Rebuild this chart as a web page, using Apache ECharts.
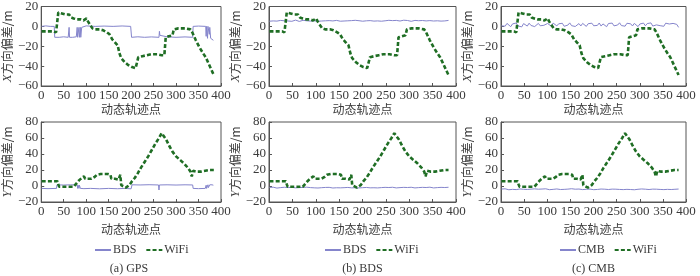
<!DOCTYPE html>
<html><head><meta charset="utf-8">
<script src="https://cdn.jsdelivr.net/npm/echarts@6/dist/echarts.min.js"></script>
<style>html,body{margin:0;padding:0;background:#fff}#c{width:700px;height:276px}</style>
</head><body><div id="c"></div>
<script>
// ---- data ----
const xTicks = [0, 400, 50];
const wifiX = [[1,-5],[28,-5],[33,-6],[36,-8],[38,14],[42,15],[46,13],[50,11],[54,12],[58,13],[62,12],[66,9],[72,8],[80,7],[88,7],[94,6],[98,7],[101,8],[104,5],[108,2],[114,-2],[120,-3],[130,-3],[138,-4],[146,-6],[152,-8],[158,-13],[164,-16],[170,-19],[174,-27],[178,-32],[186,-36],[194,-39],[202,-41],[210,-42],[213,-41],[216,-31],[225,-30],[235,-29],[245,-28],[258,-28],[268,-29],[274,-29],[277,-11],[284,-10],[292,-9],[295,-3],[305,-2],[320,-2],[332,-3],[336,-6],[344,-14],[352,-21],[360,-27],[366,-31],[372,-37],[378,-43],[384,-49]];
const wifiY = [[1,6],[36,6],[38,2],[40,-1],[50,-1],[60,-1],[72,-1],[78,3],[84,7],[90,10],[95,12],[98,9],[104,9],[112,9],[118,11],[124,14],[132,15],[140,15],[148,15],[154,14],[156,9],[164,9],[172,8],[176,14],[178,1],[182,-1],[188,-2],[192,-2],[196,1],[202,6],[208,10],[215,16],[222,23],[230,30],[238,37],[246,45],[254,53],[262,60],[268,66],[272,65],[278,58],[285,50],[292,43],[300,37],[310,32],[318,28],[326,23],[332,18],[335,12],[338,19],[345,18],[355,18],[365,19],[375,20],[384,20]];
const gpsX = [[1,0],[10,0.5],[20,0],[29,0],[30,-11],[40,-11],[50,-10.5],[60,-11],[62,-1],[63,-11],[70,-11],[78,-10.5],[80,-1],[81,-11],[84,-1],[85,-11],[87,-1],[88,-11],[90,-1],[91,0],[100,0.5],[120,0],[140,0.3],[160,0],[180,0.4],[199,0],[201,-11],[215,-10.5],[230,-11],[245,-10.6],[262,-11],[263,-5],[264,-9],[266,-11],[280,-10.5],[300,-11],[320,-10.6],[337,-11],[338,0],[350,0.3],[366,0],[367,-10],[368,0],[370,-12],[371,0],[374,-8],[375,-1],[377,-12],[380,-11],[383,-14]];
const gpsY = [[1,-3],[15,-3.3],[34,-3],[35,1.5],[50,1.2],[65,1.5],[80,1.3],[81,-3],[82,1],[84,-3],[85,1],[87,-3],[95,-3.3],[110,-3],[130,-3.5],[150,-3],[170,-3.4],[185,-3],[200,-3.5],[202,1.5],[220,1.3],[240,1.6],[261,1.3],[262,-5],[263,1.3],[280,1.5],[300,1.2],[320,1.5],[337,1.3],[338,-3],[350,-3.3],[365,-3],[367,1],[368,-3],[371,1.5],[372,-2],[375,1.5],[377,0],[380,1.5],[383,1]];
const bdsX = [5.2,5.8,5.5,6.1,5.3,5.7,6.0,5.2,5.6,6.2,5.4,5.9,5.1,5.7,6.3,5.5,5.0,5.8,6.1,5.4,5.6,6.0,5.3,5.9,5.5,6.2,5.2,5.7,5.4,6.0,5.6,5.1,5.8,6.1,5.5,5.3,6.0,5.7,5.2,5.9,5.4,6.2,5.6,5.0,5.8,5.5,6.1,5.3,5.7,5.9,5.2,6.0,5.6,5.4,5.8,6.2,5.3,5.7,5.5,6.0,5.2,5.9,5.6,5.4,6.1,5.3,5.8,5.5,6.0,6.8,5.4,5.7,6.2,5.3,5.9,5.6,5.1,5.8,6.0,5.4,5.7,5.2,5.9,6.1,5.5,5.3,5.8,6.0,5.4,5.7,5.6,6.1,5.3,5.8,5.5,5.9,6.0];
const bdsY = [-1.8,-2.3,-1.5,-2.1,-2.6,-1.7,-2.0,-2.4,-1.6,-2.2,-1.9,-2.5,-1.7,-2.1,-2.3,-1.6,-2.0,-2.6,-1.8,-2.2,-1.5,-2.4,-2.0,-1.7,-2.3,-1.9,-2.5,-1.6,-2.1,-2.2,-1.8,-2.4,-1.7,-2.0,-2.5,-1.6,-2.2,-1.9,-2.3,-1.7,-2.1,-2.6,-1.8,-2.0,-2.3,-1.5,-2.2,-1.9,-2.4,-1.7,-2.1,-2.5,-1.8,-2.0,-2.3,-1.6,-2.2,-1.9,-2.4,-1.8,-2.0,-2.5,-1.7,-2.2,-1.9,-2.3,-1.6,-2.1,-2.4,-1.8,-2.0,-2.5,-1.7,-2.2,-1.9,-2.3,-1.6,-2.1,-2.4,-1.8,-2.0,-2.6,-1.7,-2.2,-1.9,-2.3,-1.5,-2.1,-2.4,-1.8,-2.0,-2.3,-1.7,-2.2,-1.9,-2.1,-1.6];
const cmbX = [0.5,2.1,0.2,3.0,1.0,-0.3,2.5,1.2,3.4,0.4,1.8,-0.5,2.8,1.5,0.3,3.2,0.9,2.2,-0.2,1.6,3.0,0.6,2.4,1.1,-0.4,2.9,1.4,0.2,3.3,1.7,0.5,2.6,1.0,3.1,0.1,2.0,1.3,3.5,0.7,2.3,-0.1,1.9,2.8,0.4,3.0,1.2,0.0,2.7,1.5,3.2,0.6,2.1,1.0,3.4,0.3,2.5,1.8,-0.3,2.9,1.1,3.3,0.5,2.2,1.4,3.6,0.8,2.0,0.2,3.1,1.6,2.6,0.4,3.0,1.2,-0.2,2.4,1.7,3.3,0.6,2.8,1.0,3.5,0.3,2.2,1.5,3.0,0.7,2.6,0.1,3.2,1.3,2.4,0.5,3.0,1.1,2.0,-1.0];
const cmbY = [-3.8,-4.4,-3.5,-4.1,-4.7,-3.9,-4.2,-3.6,-4.5,-4.0,-3.7,-4.6,-4.1,-3.8,-4.3,-4.8,-3.9,-4.2,-3.6,-4.4,-4.0,-4.7,-3.8,-4.3,-3.5,-4.1,-4.6,-3.9,-4.2,-4.5,-3.7,-4.0,-4.4,-3.6,-4.2,-4.7,-3.9,-4.1,-3.4,-4.3,-4.0,-4.6,-3.8,-2.6,-4.5,-3.7,-4.1,-4.4,-3.9,-4.0,-4.6,-3.6,-4.3,-4.1,-3.8,-4.5,-4.0,-3.7,-4.4,-4.2,-3.9,-4.6,-4.0,-3.6,-4.3,-4.1,-4.5,-3.8,-4.2,-3.5,-4.4,-4.0,-4.7,-3.9,-4.1,-4.3,-3.7,-4.5,-4.0,-3.8,-4.4,-4.2,-3.9,-4.6,-4.0,-3.7,-4.3,-4.1,-4.5,-3.8,-4.2,-4.0,-4.4,-3.9,-4.1,-4.3,-3.8];
const xName = '动态轨迹点';
const captions = ['(a) GPS', '(b) BDS', '(c) CMB'];
const legendNames = [['BDS','WiFi'], ['BDS','WiFi'], ['CMB','WiFi']];

// sample positions (trajectory point index) for evenly sampled series
function sampled(vals){ const n = vals.length; return vals.map((v,i)=>[1 + i*383/(n-1), v]); }

const panels = [
  {left:37, width:184, x: gpsX, y: gpsY, name: 'BDS'},
  {left:269, width:187, x: sampled(bdsX), y: sampled(bdsY), name: 'BDS'},
  {left:501, width:185, x: sampled(cmbX), y: sampled(cmbY), name: 'CMB'}
];

const purple = '#8585cc', green = '#1f6e24', ink = '#3a3a3a';
const serif = "'Liberation Serif', serif";
const cjk = "'Noto Sans CJK SC', sans-serif";

const grid = [], xAxis = [], yAxis = [], series = [], legend = [], graphic = [];
panels.forEach((p, k) => {
  [[6, 80, -60, 20, 'X', 17], [122, 80, -20, 80, 'Y', 21]].forEach((g, r) => {
    const gi = grid.length;
    grid.push({left: p.left, width: p.width, top: g[0], height: g[1], show: true, borderColor: '#555', borderWidth: 1, backgroundColor: 'transparent'});
    xAxis.push({type: 'value', gridIndex: gi, min: xTicks[0], max: xTicks[1], interval: xTicks[2],
      name: xName, nameLocation: 'middle', nameGap: g[5],
      nameTextStyle: {fontFamily: cjk, fontSize: 12, color: ink},
      axisLine: {show: true, onZero: false, lineStyle: {color: '#555', width: 1}},
      axisTick: {show: true, inside: true, length: 3, lineStyle: {color: '#555'}},
      axisLabel: {fontFamily: serif, fontSize: 13, color: ink, margin: 3},
      splitLine: {show: false}});
    yAxis.push({type: 'value', gridIndex: gi, min: g[2], max: g[3], interval: 20,
      name: '{i|' + g[4] + '}{c|方向偏差/m}', nameLocation: 'middle', nameGap: 23, nameRotate: 90,
      nameTextStyle: {rich: {i: {fontFamily: serif, fontStyle: 'italic', fontSize: 13, color: ink}, c: {fontFamily: cjk, fontSize: 12, color: ink}}},
      axisLine: {show: true, onZero: false, lineStyle: {color: '#555', width: 1}},
      axisTick: {show: true, inside: true, length: 3, lineStyle: {color: '#555'}},
      axisLabel: {fontFamily: serif, fontSize: 13, color: ink, margin: 3, formatter: v => String(v).replace('-', '\u2212')},
      splitLine: {show: false}});
    series.push({type: 'line', name: p.name, xAxisIndex: gi, yAxisIndex: gi, data: r === 0 ? p.x : p.y,
      showSymbol: false, symbol: 'none', lineStyle: {color: purple, width: 1}, itemStyle: {color: purple}, z: 2, animation: false});
    series.push({type: 'line', name: 'WiFi', xAxisIndex: gi, yAxisIndex: gi, data: r === 0 ? wifiX : wifiY,
      showSymbol: false, symbol: 'none', lineStyle: {color: green, width: 2.6, type: [4, 2.2]}, itemStyle: {color: green}, z: 3, animation: false});
  });
  legend.push({left: [94, 324, 559][k], top: 244, padding: 0, data: legendNames[k], itemWidth: 16, itemHeight: 10, itemGap: 9,
    itemStyle: {opacity: 0},
    textStyle: {fontFamily: serif, fontSize: 12, color: ink, padding: [0, 0, 0, -3]}, selectedMode: false});
  graphic.push({type: 'text', style: {text: captions[k], x: p.left + p.width / 2, y: 269, align: 'center', verticalAlign: 'middle', font: "12px 'Liberation Serif', serif", fill: ink}});
});

const chart = echarts.init(document.getElementById('c'), null, {renderer: 'canvas'});
chart.setOption({animation: false, backgroundColor: '#fff', grid, xAxis, yAxis, series, legend, graphic});
</script></body></html>
